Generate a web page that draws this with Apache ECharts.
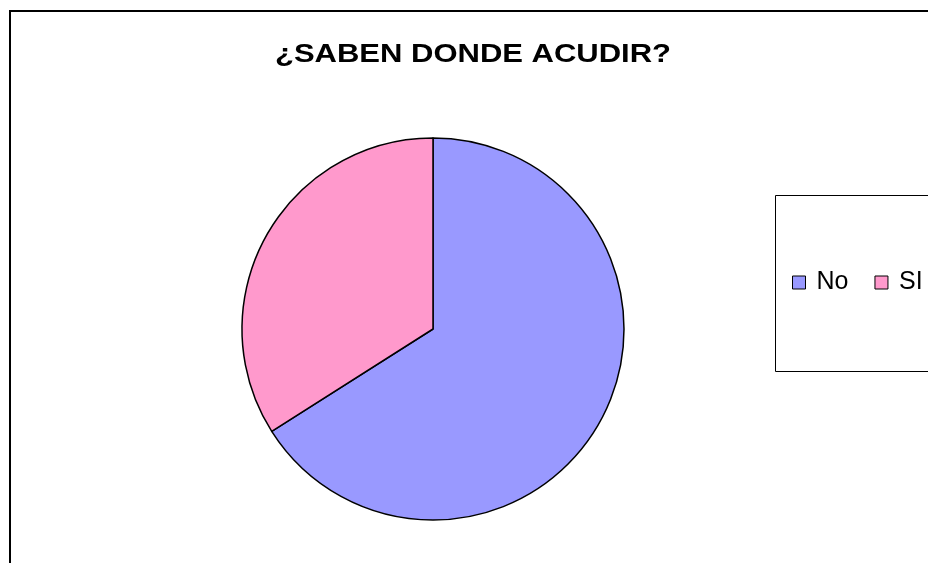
<!DOCTYPE html>
<html>
<head>
<meta charset="utf-8">
<script src="https://cdn.jsdelivr.net/npm/echarts@6/dist/echarts.min.js"></script>
<style>
  html, body { margin: 0; padding: 0; background: #fff; }
  #chart { width: 928px; height: 563px; }
</style>
</head>
<body>
<div id="chart"></div>
<script>
// Survey answers: do they know where to go?
const categories = ['No', 'SI'];
const values = [66, 34];
const sliceColors = ['#9999FF', '#FF99CC'];
const chartTitle = '¿SABEN DONDE ACUDIR?';

const chart = echarts.init(document.getElementById('chart'), null, { renderer: 'canvas' });

chart.setOption({
  backgroundColor: '#ffffff',
  animation: false,
  graphic: [
    // chart area frame
    {
      type: 'rect', z: 0,
      shape: { x: 10, y: 11, width: 1000, height: 700 },
      style: { fill: '#ffffff', stroke: '#000000', lineWidth: 2 }
    },
    // legend box
    {
      type: 'rect', z: 1,
      shape: { x: 775.5, y: 195.5, width: 300, height: 176 },
      style: { fill: '#ffffff', stroke: '#000000', lineWidth: 1 }
    },
    // title, drawn slightly wide
    {
      type: 'text', z: 5,
      x: 473, y: 55,
      scaleX: 1.24,
      style: {
        text: chartTitle,
        fontFamily: 'Liberation Sans, Arial, sans-serif',
        fontWeight: 'bold',
        fontSize: 25,
        fill: '#000000',
        textAlign: 'center',
        textVerticalAlign: 'middle'
      }
    }
  ],
  legend: {
    orient: 'horizontal',
    left: 792,
    top: 270,
    width: 300,
    padding: 0,
    z: 10,
    icon: 'rect',
    itemWidth: 13,
    itemHeight: 13,
    itemGap: 26,
    textStyle: {
      fontFamily: 'Liberation Sans, Arial, sans-serif',
      fontSize: 25,
      color: '#000000',
      padding: [0, 0, 4, 6]
    },
    itemStyle: { borderColor: '#000000', borderWidth: 1 },
    data: categories
  },
  series: [{
    type: 'pie',
    center: [433, 329],
    radius: 191,
    startAngle: 90,
    clockwise: true,
    label: { show: false },
    labelLine: { show: false },
    emphasis: { disabled: true },
    itemStyle: { borderColor: '#000000', borderWidth: 1.5 },
    data: categories.map((name, i) => ({
      name: name,
      value: values[i],
      itemStyle: { color: sliceColors[i] }
    }))
  }]
});
</script>
</body>
</html>
